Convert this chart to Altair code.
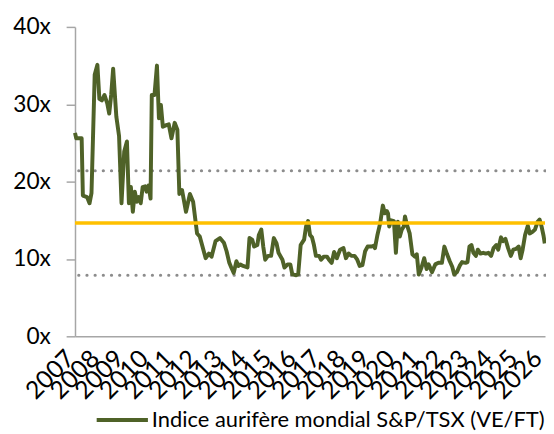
import altair as alt
import pandas as pd

# Fractional year positions and forward P/E (x) values
years = [2007.00, 2007.05, 2007.27, 2007.32, 2007.49, 2007.59, 2007.67, 2007.80, 2007.91, 2007.99,
         2008.09, 2008.20, 2008.31, 2008.39, 2008.47, 2008.55, 2008.68, 2008.79, 2008.89, 2009.00,
         2009.11, 2009.19, 2009.27, 2009.35, 2009.43, 2009.51, 2009.59, 2009.67, 2009.75, 2009.85,
         2009.91, 2009.99, 2010.07, 2010.12, 2010.23, 2010.33, 2010.41, 2010.49, 2010.57, 2010.71,
         2010.81, 2010.92, 2011.05, 2011.16, 2011.24, 2011.35, 2011.51, 2011.67, 2011.80, 2011.96,
         2012.07, 2012.31, 2012.44, 2012.55, 2012.71, 2012.89, 2013.05, 2013.16, 2013.27, 2013.35,
         2013.45, 2013.56, 2013.64, 2013.72, 2013.83, 2014.01, 2014.09, 2014.20, 2014.28, 2014.41,
         2014.47, 2014.57, 2014.65, 2014.73, 2014.84, 2014.97, 2015.08, 2015.19, 2015.27, 2015.43,
         2015.51, 2015.64, 2015.75, 2015.83, 2015.99, 2016.07, 2016.17, 2016.31, 2016.39, 2016.47,
         2016.55, 2016.63, 2016.71, 2016.79, 2016.92, 2017.00, 2017.11, 2017.24, 2017.32, 2017.43,
         2017.53, 2017.64, 2017.77, 2017.91, 2018.01, 2018.12, 2018.23, 2018.36, 2018.47, 2018.57,
         2018.68, 2018.79, 2018.89, 2019.03, 2019.13, 2019.19, 2019.29, 2019.40, 2019.51, 2019.59,
         2019.67, 2019.72, 2019.77, 2019.85, 2019.96, 2020.04, 2020.12, 2020.20, 2020.28, 2020.36,
         2020.41, 2020.49, 2020.60, 2020.71, 2020.81, 2020.89, 2020.97, 2021.08, 2021.19, 2021.29,
         2021.37, 2021.51, 2021.64, 2021.77, 2021.91, 2022.01, 2022.12, 2022.23, 2022.33, 2022.41,
         2022.52, 2022.63, 2022.73, 2022.87, 2022.95, 2023.03, 2023.11, 2023.19, 2023.29, 2023.37,
         2023.48, 2023.59, 2023.69, 2023.80, 2023.91, 2024.01, 2024.12, 2024.20, 2024.31, 2024.39,
         2024.49, 2024.60, 2024.71, 2024.81, 2024.92, 2025.03, 2025.11, 2025.19, 2025.29, 2025.40,
         2025.48, 2025.59, 2025.69, 2025.80, 2025.88, 2025.96, 2026.04, 2026.09]
pe = [26.3, 25.6, 25.6, 18.2, 18.0, 17.2, 18.5, 33.8, 35.1, 30.7,
      30.5, 31.2, 30.1, 28.8, 31.2, 34.6, 28.4, 25.9, 17.2, 23.9,
      25.2, 17.2, 19.3, 16.1, 18.7, 17.4, 18.0, 17.2, 19.3, 19.4,
      18.7, 19.5, 17.8, 31.2, 31.2, 35.0, 28.2, 29.9, 27.1, 27.3,
      27.4, 25.6, 27.6, 26.7, 18.4, 18.9, 16.1, 18.4, 17.4, 13.3,
      12.9, 10.1, 10.7, 10.3, 12.3, 12.7, 12.1, 11.0, 9.5, 8.9,
      8.2, 9.7, 9.1, 9.3, 9.1, 8.9, 12.7, 12.5, 11.6, 11.8,
      13.1, 13.8, 11.6, 9.9, 10.4, 10.4, 12.7, 12.0, 10.8, 9.9,
      8.9, 9.3, 9.3, 8.0, 7.9, 8.0, 11.8, 12.5, 14.2, 14.9,
      13.1, 12.8, 11.8, 10.4, 10.4, 9.9, 10.3, 10.3, 9.9, 9.5,
      10.9, 10.1, 11.2, 11.4, 10.1, 10.7, 10.4, 10.4, 9.9, 9.1,
      9.2, 11.0, 11.6, 11.6, 11.7, 11.4, 13.1, 14.6, 16.9, 15.9,
      16.2, 15.9, 14.2, 15.0, 14.9, 10.8, 14.8, 12.9, 13.8, 14.2,
      15.5, 14.4, 13.3, 10.6, 10.3, 10.6, 8.0, 8.9, 10.1, 8.7,
      9.3, 8.3, 9.3, 9.5, 9.5, 11.6, 10.6, 9.7, 9.0, 8.0,
      8.3, 9.1, 9.6, 9.5, 9.6, 11.6, 11.8, 10.8, 10.4, 11.2,
      10.7, 10.8, 10.7, 10.8, 10.4, 11.4, 11.8, 11.2, 12.8, 12.3,
      12.6, 11.4, 10.4, 11.2, 11.3, 11.6, 10.1, 11.2, 13.1, 14.3,
      13.3, 13.5, 13.8, 14.8, 15.1, 14.2, 13.0, 12.0]

year_ticks = list(range(2007, 2027))
y_ticks = [0, 10, 20, 30, 40]
series_name = "Indice aurifère mondial S&P/TSX (VE/FT)"
mean_value = 14.65
band_values = [21.4, 7.9]

FONT = "Lato"

df = pd.DataFrame({"year": years, "pe": pe, "series": series_name})
mean_df = pd.DataFrame({"v": [mean_value]})
band_df = pd.DataFrame({"v": band_values})

x_scale = alt.Scale(domain=[2007, 2026.1], nice=False, zero=False)
y_scale = alt.Scale(domain=[0, 40], nice=False)

line = alt.Chart(df).mark_line(strokeWidth=4, strokeJoin="round").encode(
    x=alt.X("year:Q", scale=x_scale,
            axis=alt.Axis(values=year_ticks, format="d", title=None, grid=False,
                          ticks=False, labelAngle=-45, labelAlign="right",
                          labelBaseline="middle", labelPadding=18, labelOffset=-5,
                          labelFont=FONT, labelFontSize=25, labelColor="#000000",
                          labelOverlap=False, labelFlush=False, labelBound=False,
                          domainColor="#a6a6a6", domainWidth=1.5)),
    y=alt.Y("pe:Q", scale=y_scale,
            axis=alt.Axis(values=y_ticks, labelExpr="datum.value + 'x'", title=None,
                          grid=False, tickColor="#a6a6a6", tickSize=9, tickWidth=1.5,
                          labelPadding=16, labelFont=FONT, labelFontSize=23,
                          labelColor="#000000", domainColor="#a6a6a6", domainWidth=1.5)),
    color=alt.Color("series:N", scale=alt.Scale(range=["#4f6228"]),
                    legend=alt.Legend(title=None, orient="none", legendX=20, legendY=371,
                                      symbolType="stroke", symbolSize=2704,
                                      symbolStrokeWidth=4, labelFont=FONT,
                                      labelFontSize=22.2, labelColor="#000000",
                                      labelOffset=2, labelLimit=600)),
)

bands = alt.Chart(band_df).mark_rule(color="#8c8c8c", strokeWidth=3.2, strokeDash=[0.1, 8.2],
                                     strokeCap="round").encode(y=alt.Y("v:Q", scale=y_scale))
mean_rule = alt.Chart(mean_df).mark_rule(color="#ffc000", strokeWidth=3.8).encode(
    y=alt.Y("v:Q", scale=y_scale))

chart = alt.layer(bands, line, mean_rule).properties(
    width=477, height=314,
    autosize=alt.AutoSizeParams(type="none"),
    padding={"left": 68, "top": 16, "right": 1, "bottom": 100},
).configure_view(stroke=None)

chart.save("out.html", embed_options={"renderer": "svg", "actions": False})
